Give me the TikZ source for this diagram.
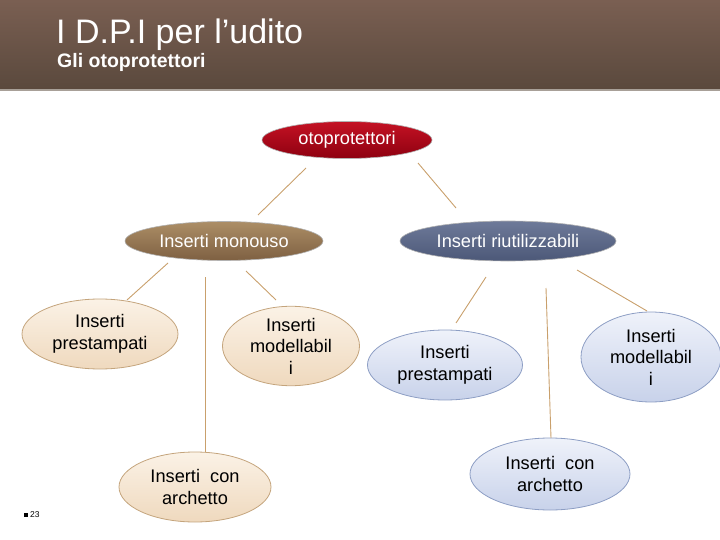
\documentclass[tikz,border=0pt]{standalone}
\usepackage{fontspec}
\setmainfont{Liberation Sans}
\usetikzlibrary{shapes.geometric}
\definecolor{hdtop}{HTML}{7A5F52}
\definecolor{hdbot}{HTML}{5A493D}
\definecolor{hdline}{HTML}{A8A098}
\definecolor{redtop}{HTML}{C41224}
\definecolor{redbot}{HTML}{8E0010}
\definecolor{browntop}{HTML}{AC8E66}
\definecolor{brownbot}{HTML}{7E6042}
\definecolor{slatetop}{HTML}{6E7A99}
\definecolor{slatebot}{HTML}{4C5878}
\definecolor{tantop}{HTML}{FBF2E6}
\definecolor{tanbot}{HTML}{EFD9BE}
\definecolor{tanborder}{HTML}{C4A47C}
\definecolor{bluetop}{HTML}{EFF2FA}
\definecolor{bluebot}{HTML}{C8D2EA}
\definecolor{blueborder}{HTML}{8D9EC4}
\definecolor{conn}{HTML}{C9A06C}
\tikzset{
  oval/.style={ellipse, inner sep=0pt, align=center, font=\fontsize{18.2}{21.5}\selectfont},
  darkoval/.style={oval, text=white, draw=gray!60, line width=0.6pt},
  tanoval/.style={oval, top color=tantop, bottom color=tanbot, draw=tanborder, line width=0.8pt, text=black},
  blueoval/.style={oval, top color=bluetop, bottom color=bluebot, draw=blueborder, line width=0.8pt, text=black},
  link/.style={draw=conn, line width=0.9pt}
}
\begin{document}
\begin{tikzpicture}[x=1pt,y=-1pt]
\useasboundingbox (0,0) rectangle (720,540);
% header
\shade[top color=hdtop, bottom color=hdbot] (0,0) rectangle (720,89);
\draw[hdline, line width=2pt] (0,90) -- (720,90);
\node[anchor=base west, text=white, font=\fontsize{34}{36}\selectfont, inner sep=0pt] (title) at (56,44) {I D.P.I per l’udito};
\node[anchor=base west, text=white, font=\bfseries\fontsize{19.5}{21}\selectfont, inner sep=0pt] (subtitle) at (57,68) {Gli otoprotettori};
% nodes
\node[darkoval, top color=redtop, bottom color=redbot, minimum width=170, minimum height=37] (oto) at (347,140) {otoprotettori};
\node[darkoval, top color=browntop, bottom color=brownbot, minimum width=198, minimum height=39] (mono) at (224,241) {Inserti monouso};
\node[darkoval, top color=slatetop, bottom color=slatebot, minimum width=216, minimum height=40] (riu) at (508,241) {Inserti riutilizzabili};
\node[tanoval, minimum width=156, minimum height=70] (lpre) at (100,334) {Inserti\\prestampati};
\node[tanoval, minimum width=137, minimum height=68] (lmod) at (291,346) {Inserti\\modellabil\\i};
\node[tanoval, minimum width=152, minimum height=70] (larc) at (195,487) {Inserti\ \ con\\archetto};
\node[blueoval, minimum width=155, minimum height=70] (rpre) at (445,365) {Inserti\\prestampati};
\node[blueoval, minimum width=140, minimum height=90] (rmod) at (651,357) {Inserti\\modellabil\\i};
\node[blueoval, minimum width=160, minimum height=72] (rarc) at (550,474) {Inserti\ \ con\\archetto};
% connector end points
\coordinate (a1) at (306,168); \coordinate (a2) at (258,215);
\coordinate (b1) at (418,163); \coordinate (b2) at (456,208);
\coordinate (c1) at (168,263); \coordinate (c2) at (127,300);
\coordinate (d1) at (246,271); \coordinate (d2) at (276,300);
\coordinate (e1) at (205,277); \coordinate (e2) at (205,452);
\coordinate (f1) at (486,277); \coordinate (f2) at (456,323);
\coordinate (g1) at (546,288); \coordinate (g2) at (551,438);
\coordinate (h1) at (577,270); \coordinate (h2) at (647,311);
\draw[link] (a1) -- (a2);
\draw[link] (b1) -- (b2);
\draw[link] (c1) -- (c2);
\draw[link] (d1) -- (d2);
\draw[link] (e1) -- (e2);
\draw[link] (f1) -- (f2);
\draw[link] (g1) -- (g2);
\draw[link] (h1) -- (h2);
% page number
\fill[black] (24,513) rectangle (27.5,516.5);
\node[anchor=west, font=\fontsize{8.5}{9}\selectfont, inner sep=0pt] (pnum) at (30,515) {23};
\end{tikzpicture}
\end{document}
